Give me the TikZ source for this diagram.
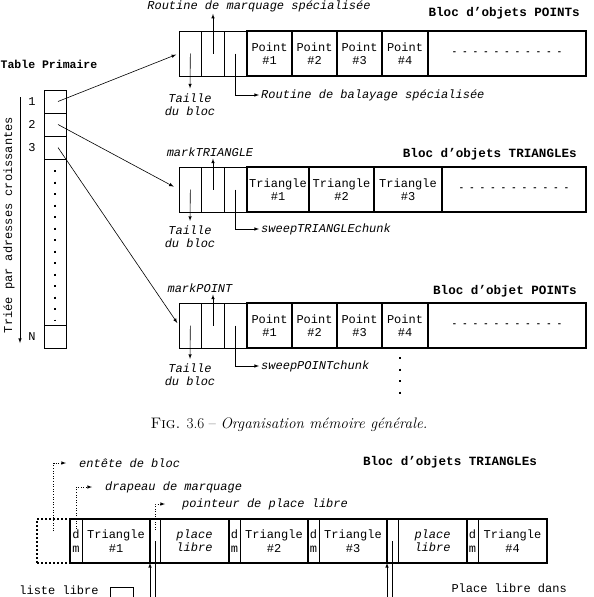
\documentclass[tikz,border=0pt]{standalone}
\usepackage{fontspec}
\setmonofont{Liberation Mono}
\usepackage{tikz}
\usetikzlibrary{positioning}

\begin{document}
\begin{tikzpicture}[
        x=1pt, y=-1pt,
        every node/.style={font=\ttfamily\fontsize{12}{13.5}\selectfont},
        hcell/.style={draw, line width=0.8pt, minimum width=22.67pt, minimum height=45pt, inner sep=0pt, outer sep=0pt},
        ocell/.style={draw, line width=1.8pt, minimum height=45pt, inner sep=0pt, outer sep=0pt, align=center},
        tcell/.style={draw, line width=0.8pt, minimum width=22pt, inner sep=0pt, outer sep=0pt},
        bcell/.style={draw, line width=0.8pt, minimum height=44pt, inner sep=0pt, outer sep=0pt, align=center},
        grp/.style={line width=1.8pt},
        lbl/.style={font=\ttfamily\itshape\fontsize{12}{13}\selectfont, align=center, inner sep=2pt},
        title/.style={font=\ttfamily\bfseries\fontsize{12.6}{14}\selectfont, inner sep=0pt},
        dotrow/.style={font=\ttfamily\bfseries\fontsize{8.75}{10}\selectfont},
        vdots/.style={line width=1.3pt, dash pattern=on 2pt off 9.5pt},
        link/.style={line width=0.6pt, -latex}
    ]
        \useasboundingbox (0,0) rectangle (594,597);

        % Table primaire
        \node[title, anchor=west, font=\ttfamily\bfseries\fontsize{11.5}{13}\selectfont] (tabtitle) at (0.5,64) {Table Primaire};
        \node[tcell, minimum height=23pt] (t1) at (55,101.5) {};
        \node[tcell, minimum height=23pt, below=0pt of t1] (t2) {};
        \node[tcell, minimum height=23pt, below=0pt of t2] (t3) {};
        \node[tcell, minimum height=166pt, below=0pt of t3] (tdots) {};
        \node[tcell, minimum height=23pt, below=0pt of tdots] (tN) {};
        \node[left=5pt of t1] (n1) {1};
        \node[left=5pt of t2] (n2) {2};
        \node[left=5pt of t3] (n3) {3};
        \node[left=5pt of tN] (nN) {N};
        \draw[vdots] ([yshift=-11pt]tdots.north) -- ([yshift=4pt]tdots.south);
        \coordinate (sorttop) at (20,97);
        \coordinate (sortbot) at (20,343);
        \draw[link] (sorttop) -- (sortbot);
        \node[rotate=90] (sortlbl) at (9,225) {Triée par adresses croissantes};

        % Bloc 1 : POINTs
        \node[title, anchor=east] (b1title) at (580,13) {Bloc d’objets POINTs};
        \node[hcell] (b1h1) at (190.33,53.5) {};
        \node[hcell, right=0pt of b1h1] (b1h2) {};
        \node[hcell, right=0pt of b1h2] (b1h3) {};
        \node[ocell, minimum width=45pt, right=0pt of b1h3] (b1p1) {Point\\\#1};
        \node[ocell, minimum width=45pt, right=0pt of b1p1] (b1p2) {Point\\\#2};
        \node[ocell, minimum width=45pt, right=0pt of b1p2] (b1p3) {Point\\\#3};
        \node[ocell, minimum width=46pt, right=0pt of b1p3] (b1p4) {Point\\\#4};
        \node[ocell, minimum width=158pt, right=0pt of b1p4, dotrow] (b1rest) {- - - - - - - - - - -};
        \node[lbl] (marq1) at (259,6) {Routine de marquage spécialisée};
        \node[lbl] (taille1) at (190,104.5) {Taille\\du bloc};
        \node[lbl, anchor=west] (balay1) at (259,95) {Routine de balayage spécialisée};
        \draw[link] (b1h2.center) -- (b1h2.center |- marq1.south);
        \draw[link, shorten >=3pt] (b1h1.center) -- (taille1.north);
        \draw[link] (b1h3.center) |- (balay1.west);

        % Bloc 2 : TRIANGLEs
        \node[title, anchor=east] (b2title) at (577,154) {Bloc d’objets TRIANGLEs};
        \node[hcell] (b2h1) at (190.33,189.5) {};
        \node[hcell, right=0pt of b2h1] (b2h2) {};
        \node[hcell, right=0pt of b2h2] (b2h3) {};
        \node[ocell, minimum width=62pt, right=0pt of b2h3] (b2t1) {Triangle\\\#1};
        \node[ocell, minimum width=65pt, right=0pt of b2t1] (b2t2) {Triangle\\\#2};
        \node[ocell, minimum width=68pt, right=0pt of b2t2] (b2t3) {Triangle\\\#3};
        \node[ocell, minimum width=144pt, right=0pt of b2t3, dotrow] (b2rest) {- - - - - - - - - - -};
        \node[lbl] (marq2) at (210,152) {markTRIANGLE};
        \node[lbl] (taille2) at (190,237) {Taille\\du bloc};
        \node[lbl, anchor=west] (balay2) at (259,229) {sweepTRIANGLEchunk};
        \draw[link] (b2h2.center) -- (b2h2.center |- marq2.south);
        \draw[link, shorten >=3pt] (b2h1.center) -- (taille2.north);
        \draw[link] (b2h3.center) |- (balay2.west);

        % Bloc 3 : POINTs
        \node[title, anchor=east] (b3title) at (577,291) {Bloc d’objet POINTs};
        \node[hcell] (b3h1) at (190.33,325.5) {};
        \node[hcell, right=0pt of b3h1] (b3h2) {};
        \node[hcell, right=0pt of b3h2] (b3h3) {};
        \node[ocell, minimum width=45pt, right=0pt of b3h3] (b3p1) {Point\\\#1};
        \node[ocell, minimum width=45pt, right=0pt of b3p1] (b3p2) {Point\\\#2};
        \node[ocell, minimum width=45pt, right=0pt of b3p2] (b3p3) {Point\\\#3};
        \node[ocell, minimum width=46pt, right=0pt of b3p3] (b3p4) {Point\\\#4};
        \node[ocell, minimum width=158pt, right=0pt of b3p4, dotrow] (b3rest) {- - - - - - - - - - -};
        \node[lbl] (marq3) at (200,288) {markPOINT};
        \node[lbl] (taille3) at (190,375) {Taille\\du bloc};
        \node[lbl, anchor=west] (balay3) at (259,366) {sweepPOINTchunk};
        \draw[link] (b3h2.center) -- (b3h2.center |- marq3.south);
        \draw[link, shorten >=3pt] (b3h1.center) -- (taille3.north);
        \draw[link] (b3h3.center) |- (balay3.west);
        \draw[vdots] (400,357) -- (400,396);

        % Table -> blocs
        \draw[link, shorten >=3pt] ([xshift=3pt]t1.center) -- (b1h1.west);
        \draw[link, shorten >=6pt] ([xshift=3pt]t2.center) -- (b2h1.west);
        \draw[link, shorten >=3pt] ([xshift=3pt]t3.center) -- (b3h1.west);

        % Legende
        \node[font=\rmfamily\fontsize{15.2}{17}\selectfont] (caption) at (289,425) {\textsc{Fig.} 3.6 -- \textit{Organisation mémoire générale.}};

        % Bloc detaille
        \node[title] (b4title) at (450,462) {Bloc d’objets TRIANGLEs};
        \node[draw, line width=2pt, dash pattern=on 2pt off 2pt, minimum width=33pt, minimum height=44pt, inner sep=0pt, outer sep=0pt] (ent) at (53.5,541) {};
        \node[bcell, minimum width=12pt] (dm1) at (76,541) {d\\m};
        \node[bcell, minimum width=68pt, right=0pt of dm1] (T1) {Triangle\\\#1};
        \node[bcell, minimum width=10pt, right=0pt of T1] (g1) {};
        \node[bcell, minimum width=69pt, right=0pt of g1, lbl] (pl1) {place\\libre};
        \node[bcell, minimum width=11pt, right=0pt of pl1] (dm2) {d\\m};
        \node[bcell, minimum width=68pt, right=0pt of dm2] (T2) {Triangle\\\#2};
        \node[bcell, minimum width=11pt, right=0pt of T2] (dm3) {d\\m};
        \node[bcell, minimum width=68pt, right=0pt of dm3] (T3) {Triangle\\\#3};
        \node[bcell, minimum width=11pt, right=0pt of T3] (g2) {};
        \node[bcell, minimum width=69pt, right=0pt of g2, lbl] (pl2) {place\\libre};
        \node[bcell, minimum width=11pt, right=0pt of pl2] (dm4) {d\\m};
        \node[bcell, minimum width=69pt, right=0pt of dm4] (T4) {Triangle\\\#4};
        \foreach \a/\b in {dm1/T1, g1/pl1, dm2/T2, dm3/T3, g2/pl2, dm4/T4}
            \draw[grp] (\a.north west) rectangle (\b.south east);

        \node[lbl, anchor=west] (entlbl) at (77,463) {entête de bloc};
        \node[lbl, anchor=west] (draplbl) at (103,487) {drapeau de marquage};
        \node[lbl, anchor=west] (ptrlbl) at (180,504) {pointeur de place libre};
        \draw[link, dotted, shorten >=11pt] ([yshift=-12pt]ent.north) |- (entlbl.west);
        \draw[link, dotted, shorten >=11pt] ([yshift=-10pt]dm1.north) |- (draplbl.west);
        \draw[link, dotted, shorten >=15pt] ([yshift=-11pt]g1.north) |- (ptrlbl.west);

        \coordinate (ptr1end) at (155,610);
        \coordinate (lib1) at (150,610);
        \coordinate (ptr2end) at (392.5,610);
        \coordinate (lib2) at (387,610);
        \draw[line width=0.6pt] (g1.center) -- (ptr1end);
        \draw[link] (lib1) -- (g1.south west);
        \draw[line width=0.6pt] (g2.center) -- (ptr2end);
        \draw[link] (lib2) -- (g2.south west);

        \node (listelbl) at (59,590.5) {liste libre};
        \node[draw, line width=0.8pt, minimum width=23pt, minimum height=25pt, inner sep=0pt] (listebox) at (121.5,599.5) {};
        \node[anchor=west] (placelbl) at (448,588) {Place libre dans};
    \end{tikzpicture}
\end{document}
